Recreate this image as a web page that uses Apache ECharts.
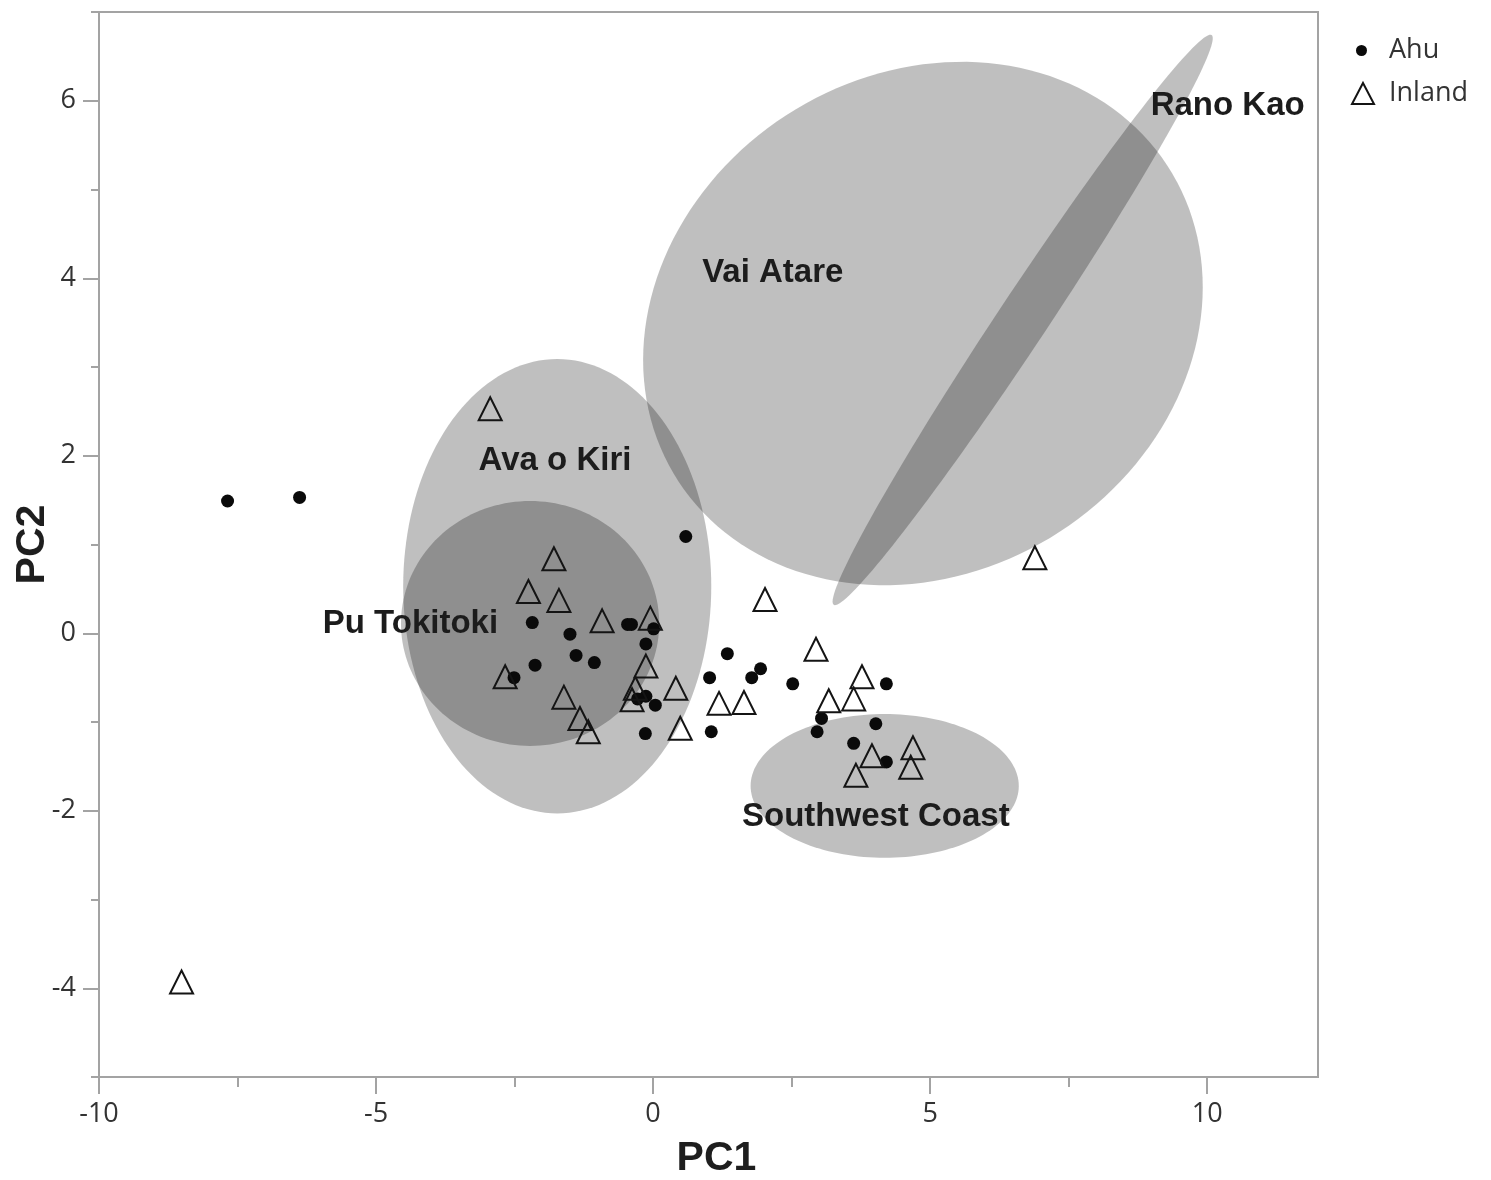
<!DOCTYPE html>
<html>
<head>
<meta charset="utf-8">
<title>PC1 vs PC2</title>
<script src="https://cdn.jsdelivr.net/npm/echarts@6/dist/echarts.min.js"></script>
<style>
  html, body { margin: 0; padding: 0; background: #ffffff; }
  #chart { width: 1491px; height: 1180px; }
</style>
</head>
<body>
<div id="chart"></div>
<script>
// Principal component scores for each sample
const ahuPC1 = [-7.68, -6.38, 0.59, -2.18, -1.50, -1.39, -1.06, -2.13, -2.51, -0.46, -0.39, 0.01, -0.13, -0.28, -0.13, 0.04, -0.14, 1.34, 1.02, 1.78, 1.94, 2.52, 1.05, 4.21, 3.04, 2.96, 4.02, 3.62, 4.21];
const ahuPC2 = [1.49, 1.53, 1.09, 0.12, -0.01, -0.25, -0.33, -0.36, -0.50, 0.10, 0.10, 0.05, -0.12, -0.74, -0.71, -0.81, -1.13, -0.23, -0.50, -0.50, -0.40, -0.57, -1.11, -0.57, -0.96, -1.11, -1.02, -1.24, -1.45];

const inlandPC1 = [-2.94, -8.51, 6.89, -1.79, -2.25, -1.70, -0.92, -0.05, -0.13, -2.67, -1.61, -1.32, -1.17, -0.32, -0.38, 0.41, 0.49, 1.19, 1.64, 2.02, 2.94, 3.17, 3.62, 3.77, 3.66, 3.95, 4.69, 4.65];
const inlandPC2 = [2.53, -3.93, 0.85, 0.84, 0.47, 0.37, 0.14, 0.17, -0.37, -0.49, -0.72, -0.96, -1.11, -0.62, -0.75, -0.62, -1.07, -0.79, -0.78, 0.38, -0.18, -0.76, -0.74, -0.49, -1.60, -1.38, -1.29, -1.51];

// Source regions: density ellipses given by centre and two conjugate semi-axes
const regionNames  = ['Vai Atare', 'Rano Kao', 'Ava o Kiri', 'Pu Tokitoki', 'Southwest Coast'];
const regionCenter = [[4.87, 3.49], [6.67, 3.53], [-1.73, 0.53], [-2.22, 0.11], [4.18, -1.72]];
const regionAxisU  = [[5.05, 0.41], [3.41, 3.21], [2.78, 0], [2.33, 0], [2.42, 0]];
const regionAxisV  = [[0, 2.92], [0.375, -0.157], [0, 2.56], [0, 1.38], [0, 0.81]];
const regionLabelAt = [[2.16, 4.06], [10.37, 5.94], [-1.77, 1.94], [-4.38, 0.10], [4.02, -2.07]];

// Axis ticks
const xMajorTicks = [-10, -5, 0, 5, 10];
const xMinorTicks = [-7.5, -2.5, 2.5, 7.5];
const yMajorTicks = [-4, -2, 0, 2, 4, 6];
const yMinorTicks = [-5, -3, -1, 1, 3, 5, 7];

const zip = (a, b) => a.map((v, i) => [v, b[i]]);

const axisColor = '#a3a3a3';
const tickFont = { fontFamily: 'Open Sans', fontSize: 27, color: '#333333' };
const titleFont = { fontFamily: 'Liberation Sans', fontWeight: 'bold', fontSize: 41, color: '#1e1e1e' };

const chart = echarts.init(document.getElementById('chart'), null, { renderer: 'canvas' });

function renderEllipse(params, api) {
  const i = params.dataIndex;
  const c = regionCenter[i], u = regionAxisU[i], v = regionAxisV[i];
  const pts = [];
  const n = 160;
  for (let k = 0; k < n; k++) {
    const t = 2 * Math.PI * k / n;
    const ct = Math.cos(t), st = Math.sin(t);
    pts.push(api.coord([c[0] + u[0] * ct + v[0] * st, c[1] + u[1] * ct + v[1] * st]));
  }
  return {
    type: 'polygon',
    shape: { points: pts },
    style: { fill: 'rgba(0,0,0,0.25)' }
  };
}

const option = {
  animation: false,
  backgroundColor: '#ffffff',
  grid: {
    left: 99, right: 173, top: 12, bottom: 103,
    outerBoundsMode: 'none',
    containLabel: false,
    show: true, borderColor: axisColor, borderWidth: 2, backgroundColor: 'transparent'
  },
  legend: [
    {
      data: [{ name: 'Ahu', icon: 'circle' }],
      left: 1351, top: 32, itemWidth: 11, itemHeight: 11,
      textStyle: { fontFamily: 'Open Sans', fontSize: 27, color: '#333333', padding: [0, 0, 0, 17] },
      selectedMode: false
    },
    {
      data: [{ name: 'Inland', icon: 'triangle' }],
      left: 1346, top: 75, itemWidth: 22, itemHeight: 21,
      textStyle: { fontFamily: 'Open Sans', fontSize: 27, color: '#333333', padding: [0, 0, 0, 10] },
      selectedMode: false
    }
  ],
  xAxis: [
    {
      type: 'value', min: -10, max: 12, position: 'bottom',
      name: 'PC1', nameLocation: 'middle', nameGap: 61, nameMoveOverlap: false,
      nameTextStyle: { ...titleFont, padding: [0, 0, 0, 16] },
      axisLine: { show: true, onZero: false, lineStyle: { color: axisColor, width: 2 } },
      axisTick: { show: true, customValues: xMajorTicks, length: 17, lineStyle: { color: axisColor, width: 2 } },
      axisLabel: { customValues: xMajorTicks, margin: 24, ...tickFont },
      splitLine: { show: false }
    },
    {
      type: 'value', min: -10, max: 12, position: 'bottom',
      axisLine: { show: false, onZero: false },
      axisTick: { show: true, customValues: xMinorTicks, length: 10, lineStyle: { color: axisColor, width: 2 } },
      axisLabel: { show: false },
      splitLine: { show: false }
    }
  ],
  yAxis: [
    {
      type: 'value', min: -5, max: 7, position: 'left',
      name: 'PC2', nameLocation: 'middle', nameGap: 46, nameRotate: 90, nameMoveOverlap: false,
      nameTextStyle: titleFont,
      axisLine: { show: true, onZero: false, lineStyle: { color: axisColor, width: 2 } },
      axisTick: { show: true, customValues: yMajorTicks, length: 16, lineStyle: { color: axisColor, width: 2 } },
      axisLabel: { customValues: yMajorTicks, margin: 23, ...tickFont },
      splitLine: { show: false }
    },
    {
      type: 'value', min: -5, max: 7, position: 'left',
      axisLine: { show: false, onZero: false },
      axisTick: { show: true, customValues: yMinorTicks, length: 8, lineStyle: { color: axisColor, width: 2 } },
      axisLabel: { show: false },
      splitLine: { show: false }
    }
  ],
  series: [
    {
      name: 'Regions',
      type: 'custom',
      xAxisIndex: 0, yAxisIndex: 0,
      renderItem: renderEllipse,
      data: regionNames.map((n, i) => ({ name: n, value: regionCenter[i] })),
      clip: true,
      silent: true,
      z: 1
    },
    {
      name: 'Region names',
      type: 'scatter',
      xAxisIndex: 0, yAxisIndex: 0,
      symbolSize: 0,
      silent: true,
      itemStyle: { opacity: 1 },
      data: regionNames.map((n, i) => ({ name: n, value: regionLabelAt[i] })),
      label: {
        show: true, position: 'inside', formatter: '{b}', opacity: 1,
        fontFamily: 'Liberation Sans', fontWeight: 'bold', fontSize: 33, color: '#1c1c1c'
      },
      z: 3
    },
    {
      name: 'Ahu',
      type: 'scatter',
      xAxisIndex: 0, yAxisIndex: 0,
      symbol: 'circle',
      symbolSize: 13,
      itemStyle: { color: '#0a0a0a', opacity: 1 },
      data: zip(ahuPC1, ahuPC2),
      z: 4
    },
    {
      name: 'Inland',
      type: 'scatter',
      xAxisIndex: 0, yAxisIndex: 0,
      symbol: 'triangle',
      symbolSize: [23, 23],
      itemStyle: { color: 'rgba(0,0,0,0)', borderColor: '#141414', borderWidth: 2, opacity: 1 },
      data: zip(inlandPC1, inlandPC2),
      z: 5
    }
  ]
};

chart.setOption(option);
</script>
</body>
</html>
